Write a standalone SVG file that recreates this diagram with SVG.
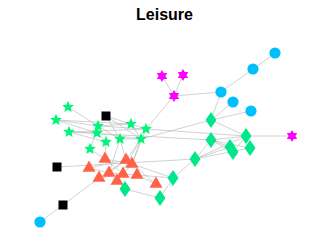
<svg xmlns="http://www.w3.org/2000/svg" xmlns:xlink="http://www.w3.org/1999/xlink" width="332" height="249" viewBox="0 0 332 249">
<style>
.e{stroke:#bdbdbd;stroke-width:0.7;fill:none}
.st{fill:#00F57A}
.dm{fill:#00E68A}
.tr{fill:#FF6347}
.ci{fill:#00BFFF}
.mg{fill:#FF00FF}
.sq{fill:#000}
.t{font-family:"Liberation Sans",Arial,sans-serif;font-weight:bold;font-size:16px;text-anchor:middle;fill:#000}
</style>
<defs>
<path id="s5" d="M0,-6.2L1.65,-2.27L5.9,-1.92L2.67,0.87L3.64,5.02L0,2.8L-3.64,5.02L-2.67,0.87L-5.9,-1.92L-1.65,-2.27Z"/>
<path id="s6" d="M0,-6L5.196,3L-5.196,3ZM0,6L-5.196,-3L5.196,-3Z"/>
<path id="tri" d="M0,-7.5L6.5,3.8L-6.5,3.8Z"/>
<path id="dia" d="M0,-8L5.5,0L0,8L-5.5,0Z"/>
<rect id="sqr" x="-4.5" y="-4.5" width="9" height="9"/>
<circle id="cir" r="5.6"/>
</defs>
<rect width="332" height="249" fill="#fff"/>
<text class="t" x="164.5" y="20">Leisure</text>
<g id="edges" class="e">
<line x1="275" y1="53" x2="253" y2="69"/>
<line x1="253" y1="69" x2="221" y2="92"/>
<line x1="221" y1="92" x2="174" y2="96"/>
<line x1="221" y1="92" x2="211" y2="120"/>
<line x1="233" y1="102" x2="211" y2="120"/>
<line x1="251" y1="111" x2="211" y2="120"/>
<line x1="162" y1="76" x2="174" y2="96"/>
<line x1="183" y1="75" x2="174" y2="96"/>
<line x1="174" y1="96" x2="146" y2="129"/>
<line x1="292" y1="136" x2="246" y2="136"/>
<line x1="211" y1="120" x2="246" y2="136"/>
<line x1="211" y1="120" x2="141" y2="139"/>
<line x1="211" y1="140" x2="69" y2="132"/>
<line x1="211" y1="140" x2="246" y2="136"/>
<line x1="211" y1="140" x2="230" y2="147"/>
<line x1="211" y1="140" x2="233" y2="152"/>
<line x1="211" y1="140" x2="195" y2="159"/>
<line x1="211" y1="140" x2="250" y2="148"/>
<line x1="246" y1="136" x2="195" y2="159"/>
<line x1="246" y1="136" x2="233" y2="152"/>
<line x1="195" y1="159" x2="230" y2="147"/>
<line x1="195" y1="159" x2="250" y2="148"/>
<line x1="195" y1="159" x2="57" y2="167"/>
<line x1="195" y1="159" x2="173" y2="178"/>
<line x1="246" y1="136" x2="146" y2="129"/>
<line x1="173" y1="178" x2="160" y2="198"/>
<line x1="173" y1="178" x2="132" y2="164"/>
<line x1="173" y1="178" x2="137" y2="175"/>
<line x1="125" y1="189" x2="160" y2="198"/>
<line x1="125" y1="189" x2="117" y2="181"/>
<line x1="156" y1="184" x2="132" y2="164"/>
<line x1="63" y1="205" x2="40" y2="222"/>
<line x1="63" y1="205" x2="99" y2="178"/>
<line x1="68" y1="107" x2="98" y2="126"/>
<line x1="56" y1="120" x2="98" y2="126"/>
<line x1="56" y1="120" x2="131" y2="124"/>
<line x1="56" y1="120" x2="97" y2="133"/>
<line x1="69" y1="132" x2="97" y2="133"/>
<line x1="69" y1="132" x2="106" y2="142"/>
<line x1="69" y1="132" x2="146" y2="129"/>
<line x1="98" y1="126" x2="131" y2="124"/>
<line x1="98" y1="126" x2="146" y2="129"/>
<line x1="98" y1="126" x2="120" y2="139"/>
<line x1="106" y1="116" x2="146" y2="129"/>
<line x1="106" y1="116" x2="120" y2="139"/>
<line x1="106" y1="116" x2="141" y2="139"/>
<line x1="97" y1="133" x2="141" y2="139"/>
<line x1="97" y1="133" x2="106" y2="142"/>
<line x1="90" y1="149" x2="98" y2="126"/>
<line x1="120" y1="139" x2="141" y2="139"/>
<line x1="131" y1="124" x2="141" y2="139"/>
<line x1="90" y1="149" x2="105" y2="159"/>
<line x1="106" y1="142" x2="105" y2="159"/>
<line x1="120" y1="139" x2="126" y2="160"/>
<line x1="120" y1="139" x2="109" y2="173"/>
<line x1="141" y1="139" x2="126" y2="160"/>
<line x1="141" y1="139" x2="132" y2="164"/>
<line x1="146" y1="129" x2="132" y2="164"/>
<line x1="141" y1="139" x2="117" y2="181"/>
<line x1="89" y1="168" x2="126" y2="160"/>
<line x1="89" y1="168" x2="109" y2="173"/>
<line x1="105" y1="159" x2="132" y2="164"/>
<line x1="109" y1="173" x2="137" y2="175"/>
<line x1="99" y1="178" x2="126" y2="160"/>
<line x1="117" y1="181" x2="132" y2="164"/>
<line x1="123" y1="174" x2="105" y2="159"/>
<line x1="137" y1="175" x2="156" y2="184"/>
<line x1="99" y1="178" x2="123" y2="174"/>
<line x1="109" y1="173" x2="126" y2="160"/>
</g>
<g id="n1"><use href="#cir" class="ci" x="275" y="53"/></g>
<g id="n2"><use href="#cir" class="ci" x="253" y="69"/></g>
<g id="n3"><use href="#cir" class="ci" x="221" y="92"/></g>
<g id="n4"><use href="#cir" class="ci" x="233" y="102"/></g>
<g id="n5"><use href="#cir" class="ci" x="251" y="111"/></g>
<g id="n6"><use href="#cir" class="ci" x="40" y="222"/></g>
<g id="n7"><use href="#s6" class="mg" x="162" y="76"/></g>
<g id="n8"><use href="#s6" class="mg" x="183" y="75"/></g>
<g id="n9"><use href="#s6" class="mg" x="174" y="96"/></g>
<g id="n10"><use href="#s6" class="mg" x="292" y="136"/></g>
<g id="n11"><use href="#sqr" class="sq" x="106" y="116"/></g>
<g id="n12"><use href="#sqr" class="sq" x="57" y="167"/></g>
<g id="n13"><use href="#sqr" class="sq" x="63" y="205"/></g>
<g id="n14"><use href="#s5" class="st" x="68" y="107"/></g>
<g id="n15"><use href="#s5" class="st" x="56" y="120"/></g>
<g id="n16"><use href="#s5" class="st" x="69" y="132"/></g>
<g id="n17"><use href="#s5" class="st" x="98" y="126"/></g>
<g id="n18"><use href="#s5" class="st" x="97" y="133"/></g>
<g id="n19"><use href="#s5" class="st" x="131" y="124"/></g>
<g id="n20"><use href="#s5" class="st" x="146" y="129"/></g>
<g id="n21"><use href="#s5" class="st" x="106" y="142"/></g>
<g id="n22"><use href="#s5" class="st" x="120" y="139"/></g>
<g id="n23"><use href="#s5" class="st" x="141" y="139"/></g>
<g id="n24"><use href="#s5" class="st" x="90" y="149"/></g>
<g id="n25"><use href="#tri" class="tr" x="89" y="168"/></g>
<g id="n26"><use href="#tri" class="tr" x="105" y="159"/></g>
<g id="n27"><use href="#tri" class="tr" x="126" y="160"/></g>
<g id="n28"><use href="#tri" class="tr" x="132" y="164"/></g>
<g id="n29"><use href="#tri" class="tr" x="109" y="173"/></g>
<g id="n30"><use href="#tri" class="tr" x="99" y="178"/></g>
<g id="n31"><use href="#tri" class="tr" x="123" y="174"/></g>
<g id="n32"><use href="#tri" class="tr" x="117" y="181"/></g>
<g id="n33"><use href="#tri" class="tr" x="137" y="175"/></g>
<g id="n34"><use href="#tri" class="tr" x="156" y="184"/></g>
<g id="n35"><use href="#dia" class="dm" x="211" y="120"/></g>
<g id="n36"><use href="#dia" class="dm" x="211" y="140"/></g>
<g id="n37"><use href="#dia" class="dm" x="246" y="136"/></g>
<g id="n38"><use href="#dia" class="dm" x="230" y="147"/></g>
<g id="n39"><use href="#dia" class="dm" x="233" y="152"/></g>
<g id="n40"><use href="#dia" class="dm" x="250" y="148"/></g>
<g id="n41"><use href="#dia" class="dm" x="195" y="159"/></g>
<g id="n42"><use href="#dia" class="dm" x="173" y="178"/></g>
<g id="n43"><use href="#dia" class="dm" x="125" y="189"/></g>
<g id="n44"><use href="#dia" class="dm" x="160" y="198"/></g>
</svg>
